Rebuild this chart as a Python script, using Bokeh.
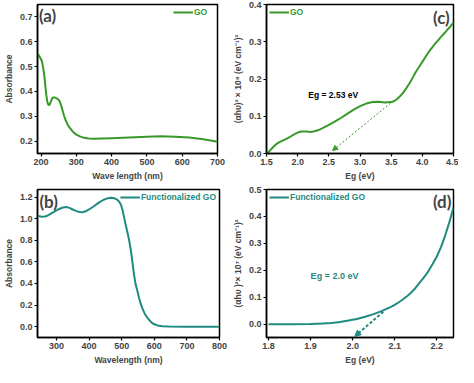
from bokeh.plotting import figure
from bokeh.layouts import column, row
from bokeh.models import Range1d, FixedTicker, PrintfTickFormatter, Label, Arrow, NormalHead
from bokeh.embed import file_html
from bokeh.resources import INLINE

GREEN = "#379a28"
TEAL = "#1f8a80"

# (a) GO absorbance
a_wl = [190, 193, 196, 200, 203, 206, 209, 212, 215, 218, 221, 223, 225, 228, 231, 234, 238, 243,
        248, 252, 256, 260, 265, 270, 275, 280, 290, 300, 310, 322, 335, 350, 375, 400, 450, 500,
        540, 580, 620, 660, 700]
a_abs = [0.551, 0.547, 0.539, 0.530, 0.518, 0.497, 0.468, 0.425, 0.385, 0.357, 0.346, 0.345, 0.349,
         0.360, 0.371, 0.376, 0.376, 0.373, 0.369, 0.363, 0.348, 0.328, 0.303, 0.283, 0.268, 0.256,
         0.238, 0.226, 0.219, 0.213, 0.210, 0.209, 0.210, 0.211, 0.214, 0.217, 0.219, 0.217, 0.214,
         0.207, 0.197]

# (b) Functionalized GO absorbance
b_wl = [245, 255, 265, 275, 290, 305, 320, 330, 340, 350, 360, 370, 380, 390, 400, 415, 430, 445,
        458, 468, 478, 486, 492, 498, 503, 508, 513, 518, 523, 528, 533, 538, 543, 548, 553, 558,
        564, 570, 577, 584, 592, 600, 610, 625, 645, 700, 800]
b_abs = [1.025, 1.018, 1.020, 1.032, 1.058, 1.085, 1.103, 1.108, 1.100, 1.085, 1.072, 1.062, 1.060,
         1.068, 1.085, 1.115, 1.148, 1.175, 1.190, 1.193, 1.188, 1.176, 1.160, 1.128, 1.075, 1.005,
         0.935, 0.870, 0.800, 0.710, 0.600, 0.480, 0.390, 0.335, 0.270, 0.215, 0.167, 0.125, 0.090,
         0.064, 0.038, 0.022, 0.012, 0.005, 0.001, 0.0, 0.0]

# (c) GO Tauc plot
c_eg = [1.515, 1.55, 1.60, 1.65, 1.70, 1.75, 1.80, 1.85, 1.90, 1.95, 2.00, 2.05, 2.10, 2.15, 2.20,
        2.25, 2.30, 2.35, 2.40, 2.50, 2.60, 2.70, 2.80, 2.90, 3.00, 3.10, 3.20, 3.30, 3.40, 3.50,
        3.55, 3.60, 3.65, 3.70, 3.75, 3.80, 3.85, 3.90, 3.95, 4.00, 4.05, 4.10, 4.15, 4.20, 4.25,
        4.30, 4.35, 4.40, 4.45, 4.50]
c_val = [0.0, 0.007, 0.016, 0.024, 0.030, 0.034, 0.038, 0.042, 0.047, 0.052, 0.056, 0.059, 0.059,
         0.059, 0.058, 0.059, 0.061, 0.064, 0.068, 0.077, 0.086, 0.096, 0.107, 0.118, 0.127, 0.134,
         0.138, 0.139, 0.137, 0.138, 0.141, 0.147, 0.155, 0.165, 0.177, 0.190, 0.205, 0.220, 0.233,
         0.246, 0.259, 0.272, 0.283, 0.294, 0.303, 0.313, 0.322, 0.332, 0.341, 0.351]
c_fit_x = [3.54, 2.56]
c_fit_y = [0.142, 0.008]

# (d) Functionalized GO Tauc plot
d_eg = [1.80, 1.85, 1.90, 1.93, 1.95, 1.97, 1.99, 2.01, 2.03, 2.05, 2.07, 2.09, 2.10, 2.11, 2.12,
        2.13, 2.14, 2.15, 2.16, 2.17, 2.18, 2.19, 2.20, 2.21, 2.22, 2.23, 2.24]
d_val = [-0.001, -0.001, 0.0, 0.002, 0.004, 0.008, 0.013, 0.019, 0.027, 0.037, 0.049, 0.063, 0.071,
         0.081, 0.092, 0.104, 0.118, 0.135, 0.155, 0.174, 0.196, 0.222, 0.250, 0.285, 0.328, 0.378,
         0.433]
d_fit_x = [2.073, 2.005]
d_fit_y = [0.046, -0.046]

a_xticks = [200, 300, 400, 500, 600, 700]
a_yticks = [0.2, 0.3, 0.4, 0.5, 0.6, 0.7]
b_xticks = [300, 400, 500, 600, 700, 800]
b_yticks = [0.0, 0.2, 0.4, 0.6, 0.8, 1.0, 1.2]
c_xticks = [1.5, 2.0, 2.5, 3.0, 3.5, 4.0, 4.5]
c_yticks = [0.0, 0.1, 0.2, 0.3, 0.4]
d_xticks = [1.8, 1.9, 2.0, 2.1, 2.2]
d_yticks = [0.0, 0.1, 0.2, 0.3, 0.4, 0.5]

FONT = "Liberation Sans"


def make_fig(w, h, xr, yr, left, right, top, bottom, xt, yt, xfmt, yfmt, xlab, ylab):
    p = figure(width=w, height=h, x_range=Range1d(*xr), y_range=Range1d(*yr),
               output_backend="svg", toolbar_location=None,
               min_border_left=left, min_border_right=right,
               min_border_top=top, min_border_bottom=bottom)
    p.grid.visible = False
    p.outline_line_color = "black"
    p.outline_line_width = 1.5
    p.xaxis.ticker = FixedTicker(ticks=xt, minor_ticks=[])
    p.yaxis.ticker = FixedTicker(ticks=yt, minor_ticks=[])
    p.xaxis.formatter = PrintfTickFormatter(format=xfmt)
    p.yaxis.formatter = PrintfTickFormatter(format=yfmt)
    p.xaxis.axis_label = xlab
    p.yaxis.axis_label = ylab
    for ax in p.axis:
        ax.axis_line_width = 1.5
        ax.major_tick_out = 3
        ax.major_tick_in = 0
        ax.major_tick_line_width = 1.2
        ax.minor_tick_out = 0
        ax.minor_tick_in = 0
        ax.major_label_text_font = FONT
        ax.major_label_text_font_style = "bold"
        ax.major_label_text_font_size = "9px"
        ax.major_label_standoff = 2
        ax.axis_label_text_font = FONT
        ax.axis_label_text_font_style = "bold"
        ax.axis_label_text_font_size = "8.5px"
        ax.axis_label_standoff = 3
    return p


def style_legend(p, loc, color):
    lg = p.legend[0]
    lg.location = loc
    lg.border_line_alpha = 0
    lg.background_fill_alpha = 0
    lg.label_text_font = FONT
    lg.label_text_font_style = "bold"
    lg.label_text_font_size = "8.5px"
    lg.label_text_color = color
    lg.glyph_width = 20
    lg.glyph_height = 8
    lg.label_height = 8
    lg.label_standoff = 1
    lg.padding = 1
    lg.margin = 2
    lg.spacing = 0


# panel a
pa = make_fig(229, 183, (190, 700), (0.15, 0.75), 29, 12, 4, 28,
              a_xticks, a_yticks, "%d", "%.1f", "Wave length (nm)", "Absorbance")
pa.line(a_wl, a_abs, line_color=GREEN, line_width=2, line_join="round", legend_label="GO")
style_legend(pa, "top_right", GREEN)
pa.add_layout(Label(x=194, y=0.705, text="(a)", text_font="Lato", text_font_style="bold",
                    text_font_size="17px", text_baseline="middle", text_align="left"))

# panel c
pc = make_fig(229, 183, (1.5, 4.5), (0.0, 0.4), 31, 5, 4, 28,
              c_xticks, c_yticks, "%.1f", "%.1f", "Eg (eV)",
              "(αhυ)² × 10⁸ (eV cm⁻¹)²")
pc.line(c_eg, c_val, line_color=GREEN, line_width=2, line_join="round", legend_label="GO")
pc.add_layout(Arrow(end=NormalHead(size=5, fill_color=GREEN, line_color=GREEN),
                    x_start=c_fit_x[0], y_start=c_fit_y[0], x_end=c_fit_x[1], y_end=c_fit_y[1],
                    line_color=GREEN, line_dash="2 2", line_width=1))
style_legend(pc, "top_left", GREEN)
pc.add_layout(Label(x=4.44, y=0.365, text="(c)", text_font="Lato", text_font_style="bold",
                    text_font_size="17px", text_baseline="middle", text_align="right"))
pc.add_layout(Label(x=2.17, y=0.157, text="Eg = 2.53 eV", text_font=FONT, text_font_style="bold",
                    text_font_size="8.5px", text_baseline="middle", text_align="left",
                    text_color="black"))

# panel b
pb = make_fig(229, 184, (242, 800), (-0.1, 1.27), 29, 10, 6, 24,
              b_xticks, b_yticks, "%d", "%.1f", "Wavelength (nm)", "Absorbance")
pb.line(b_wl, b_abs, line_color=TEAL, line_width=2, line_join="round",
        legend_label="Functionalized GO")
style_legend(pb, "top_right", TEAL)
pb.add_layout(Label(x=248, y=1.155, text="(b)", text_font="Lato", text_font_style="bold",
                    text_font_size="17px", text_baseline="middle", text_align="left"))

# panel d
pd_ = make_fig(229, 184, (1.795, 2.24), (-0.05, 0.5), 31, 5, 5, 24,
               d_xticks, d_yticks, "%.1f", "%.1f", "Eg (eV)",
               "(αhυ )²× 10⁷ (eV cm⁻¹)²")
pd_.line(d_eg, d_val, line_color=TEAL, line_width=2, line_join="round",
         legend_label="Functionalized GO")
pd_.add_layout(Arrow(end=NormalHead(size=6, fill_color=TEAL, line_color=TEAL),
                     x_start=d_fit_x[0], y_start=d_fit_y[0], x_end=d_fit_x[1], y_end=d_fit_y[1],
                     line_color=TEAL, line_dash="3 2", line_width=2))
style_legend(pd_, "top_left", TEAL)
pd_.add_layout(Label(x=2.235, y=0.455, text="(d)", text_font="Lato", text_font_style="bold",
                     text_font_size="17px", text_baseline="middle", text_align="right"))
pd_.add_layout(Label(x=1.90, y=0.179, text="Eg = 2.0 eV", text_font=FONT, text_font_style="bold",
                     text_font_size="9px", text_baseline="middle", text_align="left",
                     text_color=TEAL))

layout = column(row(pa, pc), row(pb, pd_))
open("out.html", "w").write(file_html(layout, INLINE))
